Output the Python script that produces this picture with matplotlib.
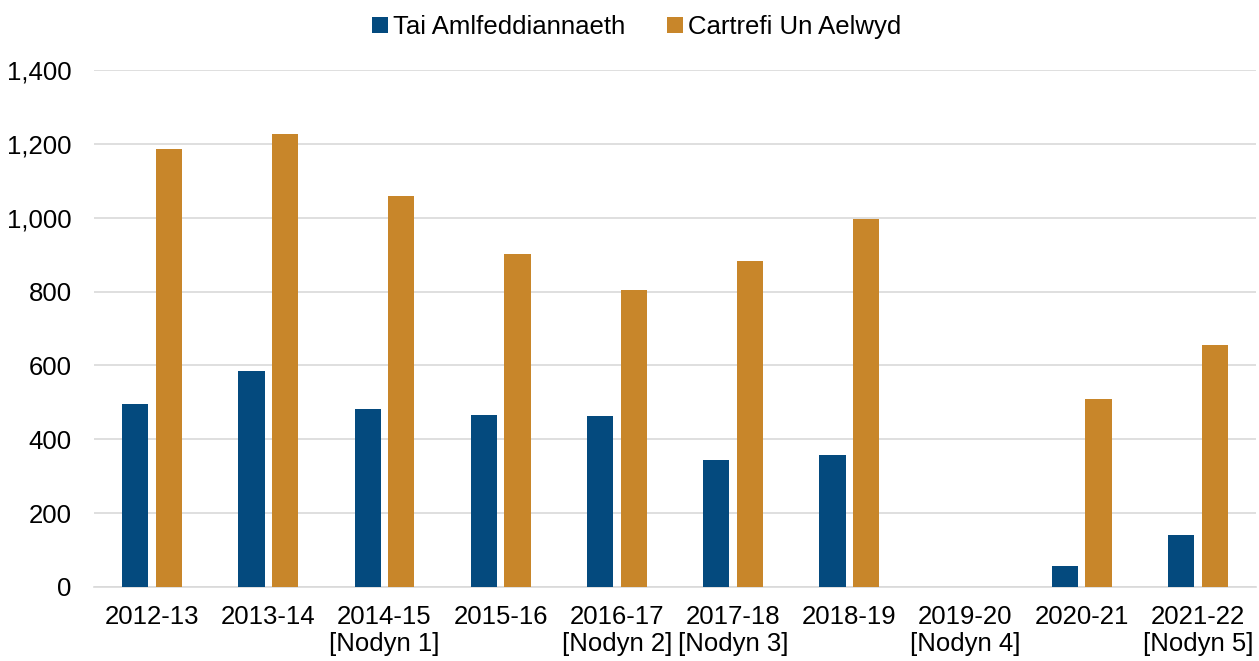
import matplotlib
matplotlib.use("Agg")
import matplotlib.pyplot as plt
import numpy as np

# data
years = ["2012-13", "2013-14", "2014-15\n[Nodyn 1]", "2015-16", "2016-17\n[Nodyn 2]",
         "2017-18\n[Nodyn 3]", "2018-19", "2019-20\n[Nodyn 4]", "2020-21", "2021-22\n[Nodyn 5]"]
tai_amlfeddiannaeth = [495, 586, 482, 466, 463, 344, 357, np.nan, 56, 140]
cartrefi_un_aelwyd = [1187, 1228, 1060, 902, 804, 883, 996, np.nan, 508, 655]
yticks = [0, 200, 400, 600, 800, 1000, 1200, 1400]

plt.rcParams['font.family'] = ['Liberation Sans', 'DejaVu Sans']

blue = "#044a7e"
orange = "#c8862a"

fig = plt.figure(figsize=(12.59, 6.61), dpi=100)
ax = fig.add_axes([0.0747, 0.112, 0.9229, 0.782])

x = np.arange(len(years))
width = 0.225
ax.bar(x - 0.145, tai_amlfeddiannaeth, width, color=blue, label="Tai Amlfeddiannaeth", zorder=3)
ax.bar(x + 0.145, cartrefi_un_aelwyd, width, color=orange, label="Cartrefi Un Aelwyd", zorder=3)

ax.set_xlim(-0.5, len(years) - 0.5)
ax.set_ylim(0, 1400)
ax.set_yticks(yticks)
ax.set_yticklabels(["{:,}".format(v) for v in yticks])
ax.set_xticks(x)
ax.set_xticklabels(years, linespacing=1.15)
ax.tick_params(axis='both', length=0, labelsize=18.5, colors="#000000")
ax.tick_params(axis='y', pad=16)
ax.tick_params(axis='x', pad=13)

ax.grid(axis='y', color="#d9d9d9", linewidth=1.2, zorder=0)
for s in ['top', 'right', 'left']:
    ax.spines[s].set_visible(False)
ax.spines['bottom'].set_color("#d9d9d9")
ax.spines['bottom'].set_linewidth(1.2)

fig.legend(loc='upper center', bbox_to_anchor=(0.5056, 1.012), ncol=2, frameon=False,
           fontsize=18.5, handlelength=0.62, handleheight=0.62, handletextpad=0.2,
           columnspacing=1.6)

fig.savefig("out.png", dpi=100)
